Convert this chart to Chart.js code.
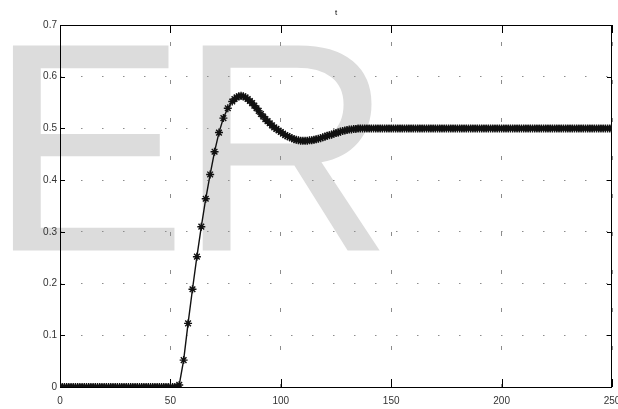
<!DOCTYPE html>
<html>
<head>
<meta charset="UTF-8">
<title>t</title>
<script src="https://cdn.jsdelivr.net/npm/chart.js"></script>
<style>
  html, body { margin: 0; padding: 0; background: #fff; }
  #wrap { width: 618px; height: 409px; }
</style>
</head>
<body>
<div id="wrap"><canvas id="plot" width="618" height="409"></canvas></div>
<script>
// time samples (denser on the flat parts, every 2 on the rise)
const tValues = [
  0,1,2,3,4,5,6,7,8,9,10,11,12,13,14,15,16,17,18,19,
  20,21,22,23,24,25,26,27,28,29,30,31,32,33,34,35,36,37,38,39,
  40,41,42,43,44,45,46,47,48,49,50,51,52,53,54,
  56,58,60,62,64,66,68,70,72,74,76,78,
  79,80,81,82,83,84,85,86,87,88,89,90,91,92,93,94,95,96,97,98,
  99,100,101,102,103,104,105,106,107,108,109,110,111,112,113,114,115,116,117,118,
  119,120,121,122,123,124,125,126,127,128,129,130,131,132,133,134,
  135,136,137,138,139,140,141,142,143,144,145,146,147,148,149,150,151,152,153,154,
  155,156,157,158,159,160,161,162,163,164,165,166,167,168,169,170,171,172,173,174,
  175,176,177,178,179,180,181,182,183,184,185,186,187,188,189,190,191,192,193,194,
  195,196,197,198,199,200,201,202,203,204,205,206,207,208,209,210,211,212,213,214,
  215,216,217,218,219,220,221,222,223,224,225,226,227,228,229,230,231,232,233,234,
  235,236,237,238,239,240,241,242,243,244,245,246,247,248,249,250
];
const yValues = [
  0,0,0,0,0,0,0,0,0,0,0,0,0,0,0,0,0,0,0,0,
  0,0,0,0,0,0,0,0,0,0,0,0,0,0,0,0,0,0,0,0,
  0,0,0,0,0,0,0,0,0,0,0,0,0,0,0.004,
  0.052,0.123,0.189,0.252,0.310,0.364,0.411,0.455,0.492,0.520,0.539,0.552,
  0.557,0.560,0.562,0.563,0.562,0.560,0.557,0.553,0.549,0.544,
  0.539,0.534,0.528,0.523,0.518,0.514,0.510,0.506,0.502,0.499,
  0.496,0.493,0.490,0.487,0.485,0.483,0.481,0.479,0.478,0.477,
  0.476,0.476,0.476,0.476,0.477,0.477,0.478,0.479,0.480,0.481,
  0.483,0.484,0.486,0.487,0.488,0.490,0.491,0.492,0.494,0.495,
  0.496,0.497,0.498,0.498,0.499,0.499,
  0.5,0.5,0.5,0.5,0.5,0.5,0.5,0.5,0.5,0.5,0.5,0.5,0.5,0.5,0.5,0.5,0.5,0.5,0.5,0.5,
  0.5,0.5,0.5,0.5,0.5,0.5,0.5,0.5,0.5,0.5,0.5,0.5,0.5,0.5,0.5,0.5,0.5,0.5,0.5,0.5,
  0.5,0.5,0.5,0.5,0.5,0.5,0.5,0.5,0.5,0.5,0.5,0.5,0.5,0.5,0.5,0.5,0.5,0.5,0.5,0.5,
  0.5,0.5,0.5,0.5,0.5,0.5,0.5,0.5,0.5,0.5,0.5,0.5,0.5,0.5,0.5,0.5,0.5,0.5,0.5,0.5,
  0.5,0.5,0.5,0.5,0.5,0.5,0.5,0.5,0.5,0.5,0.5,0.5,0.5,0.5,0.5,0.5,0.5,0.5,0.5,0.5,
  0.5,0.5,0.5,0.5,0.5,0.5,0.5,0.5,0.5,0.5,0.5,0.5,0.5,0.5,0.5,0.5
];
const xTickLabels = ['0', '50', '100', '150', '200', '250'];
const yTickLabels = ['0', '0.1', '0.2', '0.3', '0.4', '0.5', '0.6', '0.7'];
const titleText = 't';
const watermarkText = 'ER';

const points = tValues.map((t, i) => ({x: t, y: yValues[i]}));
const tickFont = {family: '"Liberation Sans Narrow", "Liberation Sans", sans-serif', size: 10};

// white page + big grey watermark behind everything
const watermark = {
    id: 'watermark',
    beforeDraw(chart) {
        const c = chart.ctx;
        c.save();
        c.fillStyle = '#fff';
        c.fillRect(0, 0, chart.width, chart.height);
        c.fillStyle = '#dcdcdc';
        c.font = '298px "Liberation Sans", Arial, sans-serif';
        c.textBaseline = 'alphabetic';
        c.textAlign = 'left';
        let x = -11.5;
        for (const ch of watermarkText) {
            c.fillText(ch, x, 250.5);
            x += c.measureText(ch).width - 9;
        }
        c.restore();
    }
};

// matlab style box with inward tick marks
const frame = {
    id: 'frame',
    beforeDatasetsDraw(chart) {
        const {ctx: c, chartArea: a, scales} = chart;
        c.save();
        c.strokeStyle = '#000';
        c.lineWidth = 1;
        c.strokeRect(a.left + 0.5, a.top + 0.5, a.right - a.left - 1, a.bottom - a.top);
        c.beginPath();
        scales.x.ticks.forEach(tk => {
            const px = Math.round(scales.x.getPixelForValue(tk.value)) + 0.5;
            c.moveTo(px, a.bottom); c.lineTo(px, a.bottom - 8);
            c.moveTo(px, a.top); c.lineTo(px, a.top + 8);
        });
        scales.y.ticks.forEach(tk => {
            const py = Math.round(scales.y.getPixelForValue(tk.value)) + 0.5;
            c.moveTo(a.left, py); c.lineTo(a.left + 5, py);
            c.moveTo(a.right, py); c.lineTo(a.right - 5, py);
        });
        c.stroke();
        c.restore();
    }
};

new Chart(document.getElementById('plot'), {
    type: 'line',
    data: {
        datasets: [{
            data: points,
            borderColor: '#111',
            borderWidth: 1.4,
            pointStyle: 'star',
            pointRadius: 4,
            pointBorderColor: '#111',
            pointBorderWidth: 1.4,
            tension: 0,
            fill: false
        }]
    },
    options: {
        responsive: false,
        animation: false,
        layout: {padding: {left: 0, right: 6, top: 0, bottom: 0}},
        plugins: {
            legend: {display: false},
            tooltip: {enabled: false},
            title: {
                display: true,
                text: titleText,
                fullSize: false,
                color: '#000',
                font: {family: '"Liberation Sans", sans-serif', size: 8, weight: 'normal'},
                padding: {top: 8, bottom: 7.4}
            }
        },
        scales: {
            x: {
                type: 'linear',
                min: 0,
                max: 250,
                ticks: {
                    stepSize: 50,
                    autoSkip: false,
                    maxRotation: 0,
                    padding: 8,
                    color: '#333',
                    font: tickFont,
                    callback: (v) => xTickLabels[Math.round(v / 50)]
                },
                grid: {color: '#8c8c8c', lineWidth: 1, drawTicks: false},
                border: {display: false, dash: [4, 34], dashOffset: 21},
                afterFit(s) { s.height = 22; s.paddingLeft = 0; s.paddingRight = 0; }
            },
            y: {
                min: 0,
                max: 0.7,
                ticks: {
                    stepSize: 0.1,
                    padding: 3,
                    color: '#333',
                    font: tickFont,
                    callback: (v) => yTickLabels[Math.round(v * 10)]
                },
                grid: {color: '#8c8c8c', lineWidth: 1, drawTicks: false},
                border: {display: false, dash: [1.5, 19.5]},
                afterFit(s) { s.width = 60; }
            }
        }
    },
    plugins: [watermark, frame]
});
</script>
</body>
</html>
